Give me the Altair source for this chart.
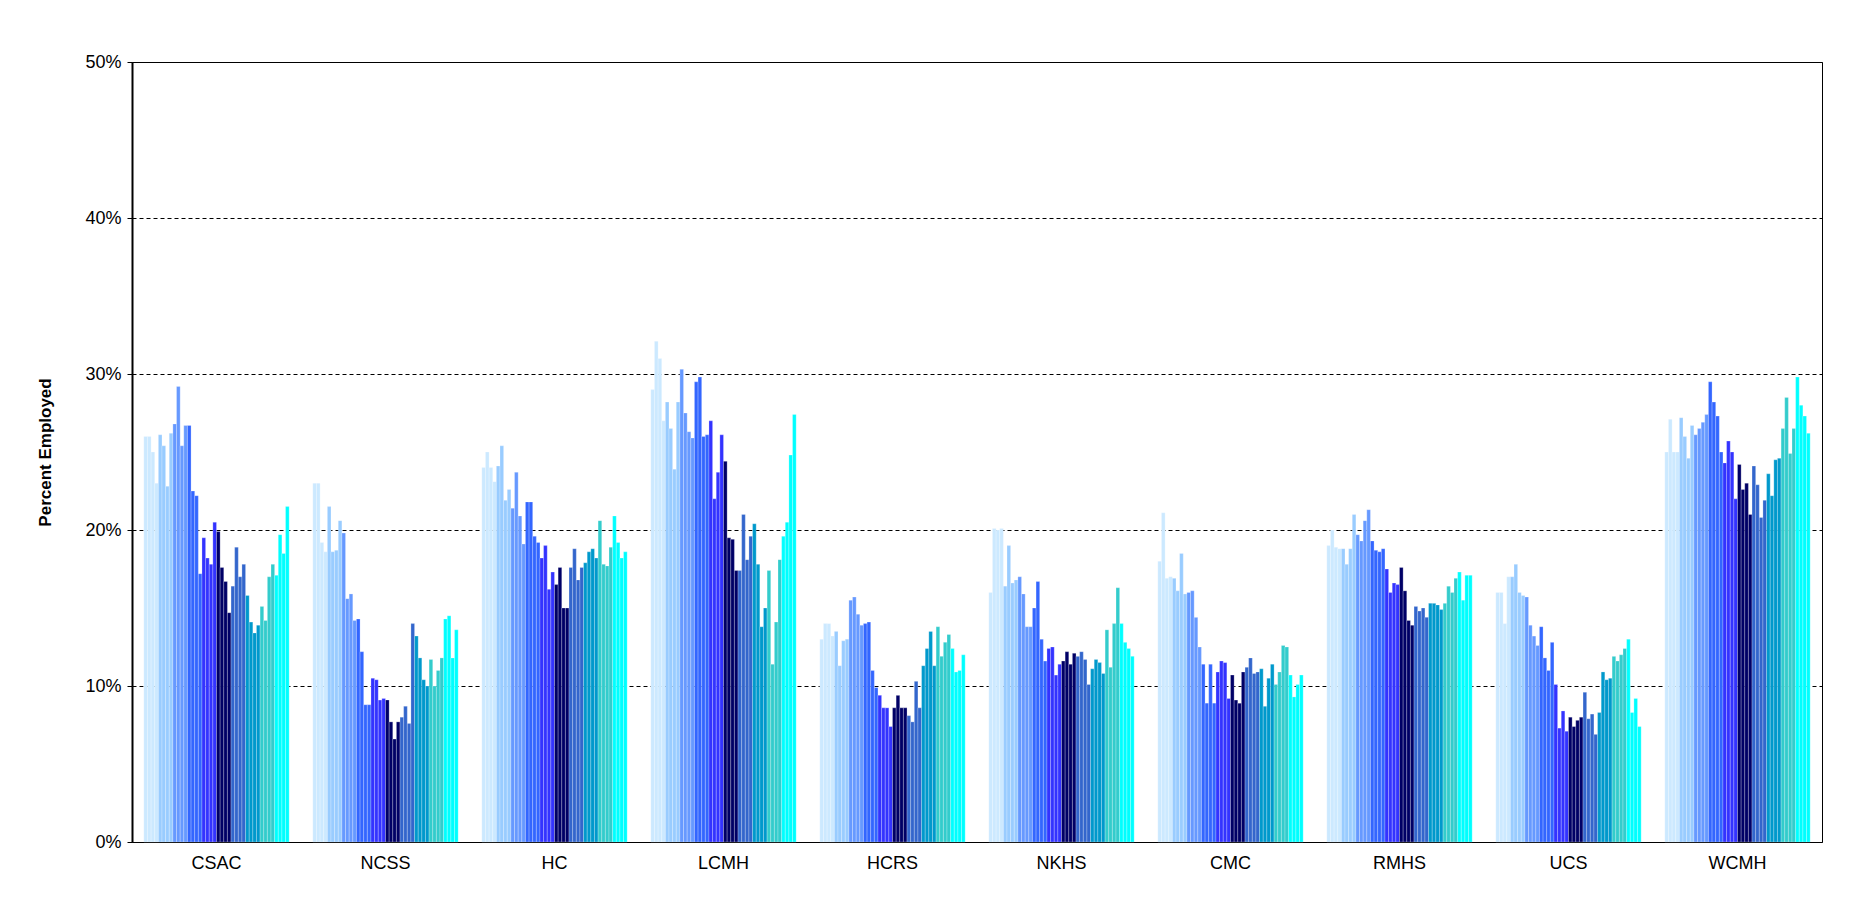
import altair as alt
import pandas as pd

sites = ["CSAC", "NCSS", "HC", "LCMH", "HCRS", "NKHS", "CMC", "RMHS", "UCS", "WCMH"]

# 40 periods per site, 4 per colour band
csac = [26.0, 26.0, 25.0, 23.0, 26.1, 25.4, 22.8, 26.2, 26.8, 29.2, 25.4, 26.7, 26.7, 22.5, 22.2, 17.2,
        19.5, 18.2, 17.8, 20.5, 19.9, 17.6, 16.7, 14.7, 16.4, 18.9, 17.0, 17.8, 15.8, 14.1, 13.4, 13.9,
        15.1, 14.2, 17.0, 17.8, 17.1, 19.7, 18.5, 21.5]
ncss = [23.0, 23.0, 19.2, 18.6, 21.5, 18.6, 18.7, 20.6, 19.8, 15.6, 15.9, 14.2, 14.3, 12.2, 8.8, 8.8,
        10.5, 10.4, 9.1, 9.2, 9.1, 7.7, 6.6, 7.7, 8.0, 8.7, 7.6, 14.0, 13.2, 11.8, 10.4, 10.0,
        11.7, 10.0, 11.0, 11.8, 14.3, 14.5, 11.8, 13.6]
hc = [24.0, 25.0, 24.0, 23.1, 24.1, 25.4, 21.9, 22.6, 21.4, 23.7, 20.9, 19.1, 21.8, 21.8, 19.6, 19.2,
      18.2, 19.0, 16.2, 17.3, 16.5, 17.6, 15.0, 15.0, 17.6, 18.8, 16.8, 17.6, 17.9, 18.6, 18.8, 18.2,
      20.6, 17.8, 17.7, 18.9, 20.9, 19.2, 18.2, 18.6]
lcmh = [29.0, 32.1, 31.0, 27.0, 28.2, 26.5, 23.9, 28.2, 30.3, 27.5, 26.3, 25.9, 29.5, 29.8, 26.0, 26.1,
        27.0, 22.0, 23.7, 26.1, 24.4, 19.5, 19.4, 17.4, 17.4, 21.0, 18.1, 19.6, 20.4, 17.8, 13.8, 15.0,
        17.4, 11.4, 14.1, 18.1, 19.6, 20.5, 24.8, 27.4]
hcrs = [13.0, 14.0, 14.0, 13.2, 13.5, 11.3, 12.9, 13.0, 15.5, 15.7, 14.6, 13.9, 14.0, 14.1, 11.0, 9.9,
        9.4, 8.6, 8.6, 7.4, 8.6, 9.4, 8.6, 8.6, 8.1, 7.7, 10.3, 8.6, 11.3, 12.4, 13.5, 11.3,
        13.8, 11.9, 12.8, 13.3, 12.4, 10.9, 11.0, 12.0]
nkhs = [16.0, 20.1, 20.0, 20.1, 16.4, 19.0, 16.6, 16.8, 17.0, 15.9, 13.8, 13.8, 15.0, 16.7, 13.0, 11.6,
        12.4, 12.5, 10.7, 11.4, 11.6, 12.2, 11.4, 12.1, 11.9, 12.2, 11.7, 10.1, 11.1, 11.7, 11.5, 10.8,
        13.6, 11.2, 14.0, 16.3, 14.0, 12.8, 12.4, 11.9]
cmc = [18.0, 21.1, 16.9, 17.0, 16.9, 16.1, 18.5, 15.9, 16.0, 16.1, 14.4, 12.5, 11.4, 8.9, 11.4, 8.9,
       10.9, 11.6, 11.5, 9.2, 10.7, 9.1, 8.9, 10.9, 11.2, 11.8, 10.8, 10.9, 11.1, 8.7, 10.5, 11.4,
       10.1, 10.9, 12.6, 12.5, 10.7, 9.3, 10.1, 10.7]
rmhs = [19.0, 20.0, 18.9, 18.8, 18.8, 17.8, 18.8, 21.0, 19.7, 19.3, 20.6, 21.3, 19.3, 18.7, 18.6, 18.8,
        17.5, 16.0, 16.6, 16.5, 17.6, 16.1, 14.2, 13.9, 15.1, 14.8, 15.0, 14.4, 15.3, 15.3, 15.2, 14.9,
        15.3, 16.4, 16.0, 16.9, 17.3, 15.5, 17.1, 17.1]
ucs = [16.0, 16.0, 14.0, 17.0, 17.0, 17.8, 16.0, 15.8, 15.7, 13.9, 13.2, 12.6, 13.8, 11.8, 11.0, 12.8,
       10.1, 7.3, 8.4, 7.1, 8.0, 7.4, 7.8, 8.0, 9.6, 7.9, 8.2, 6.9, 8.3, 10.9, 10.4, 10.5,
       11.9, 11.6, 12.0, 12.4, 13.0, 8.3, 9.2, 7.4]
wcmh = [25.0, 27.1, 25.0, 25.0, 27.2, 26.0, 24.6, 26.7, 26.1, 26.5, 26.9, 27.4, 29.5, 28.2, 27.3, 25.0,
        24.3, 25.7, 25.0, 22.0, 24.2, 22.6, 23.0, 21.0, 24.1, 22.9, 20.8, 21.9, 23.6, 22.2, 24.5, 24.6,
        26.5, 28.5, 24.9, 26.5, 29.8, 28.0, 27.3, 26.2]

band_colors = ["#CCE9FF", "#99CCFF", "#6699FF", "#3366FF", "#3333FF",
               "#000066", "#3366CC", "#0099CC", "#33CCCC", "#00FFFF"]

rows = []
for site, vals in zip(sites, [csac, ncss, hc, lcmh, hcrs, nkhs, cmc, rmhs, ucs, wcmh]):
    for i, v in enumerate(vals):
        rows.append({"Site": site, "Period": i, "Value": v / 100})
df = pd.DataFrame(rows)

colors = [band_colors[i // 4] for i in range(40)]

chart = alt.Chart(df).mark_bar(stroke="white", strokeWidth=0.4, strokeOpacity=0.6).encode(
    x=alt.X("Site:N", sort=sites, title=None,
            scale=alt.Scale(paddingInner=0.14, paddingOuter=0.07),
            axis=alt.Axis(labelAngle=0, ticks=False, domain=False, labelFontSize=18,
                          labelPadding=12, labelColor="black")),
    xOffset=alt.XOffset("Period:O", scale=alt.Scale(paddingInner=0, paddingOuter=0)),
    y=alt.Y("Value:Q", title="Percent Employed",
            scale=alt.Scale(domain=[0, 0.5]),
            axis=alt.Axis(format=".0%", values=[0, 0.1, 0.2, 0.3, 0.4, 0.5], labelFontSize=18,
                          titleFontSize=17, titleFontWeight="bold", labelColor="black",
                          titleColor="black", tickColor="black", domainColor="black",
                          domainWidth=2, gridColor="black", gridDash=[4, 3], labelPadding=6,
                          titlePadding=30)),
    color=alt.Color("Period:O", scale=alt.Scale(range=colors), legend=None),
).properties(
    width=1690,
    height=780,
    padding={"top": 45, "left": 28, "right": 10, "bottom": 10},
).configure(
    font="Liberation Sans",
).configure_view(
    stroke="black",
    strokeWidth=1,
)

chart.save("out.html", embed_options={"renderer": "svg", "actions": False})
